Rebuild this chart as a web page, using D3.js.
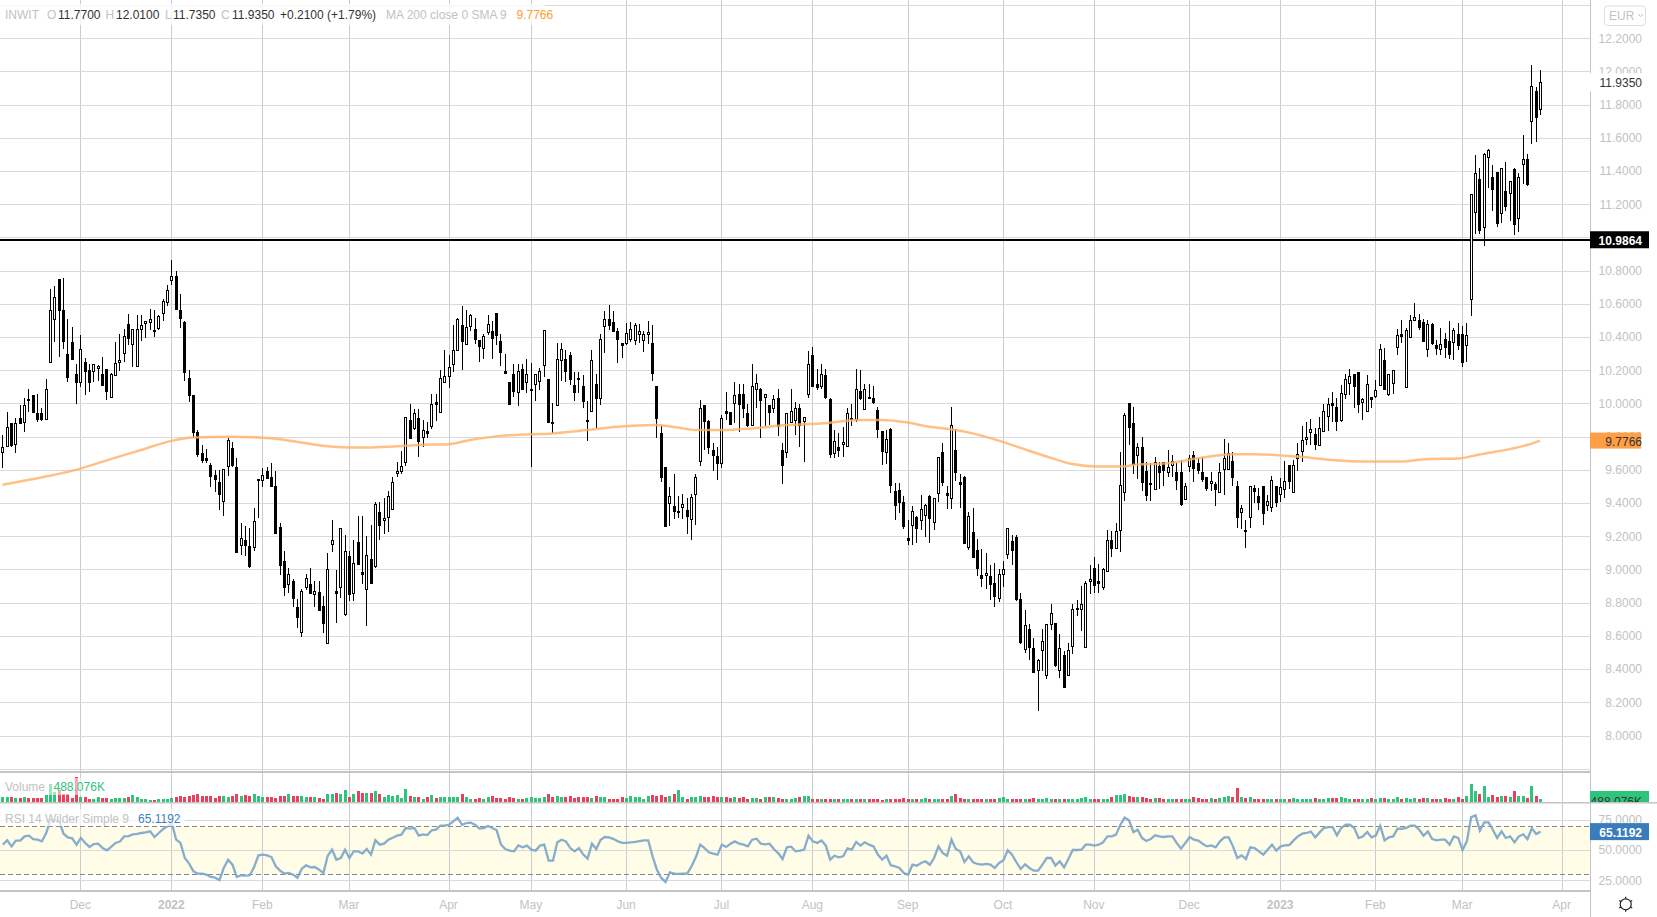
<!DOCTYPE html>
<html lang="en">
<head>
    <meta charset="UTF-8">
    <script src="https://cdn.jsdelivr.net/npm/d3@7"></script>
    <title>INWIT</title>
    <style>
        html, body { margin: 0; padding: 0; background: #fff; overflow: hidden; }
        text { font-family: "Liberation Sans", Arial, sans-serif; }
    </style>
</head>
<body>
<script>
    // OHLC per session
    var opens = [
        9.71,9.745,9.88,9.76,9.915,9.89,10.025,10.05,9.945,9.945,
        9.91,10.25,10.51,10.75,10.565,10.3,10.37,10.18,10.13,10.25,
        10.2,10.2,10.21,10.175,10.21,10.04,10.17,10.25,10.3,10.48,
        10.36,10.225,10.45,10.48,10.49,10.445,10.45,10.54,10.615,10.745,
        10.77,10.565,10.49,10.155,10.05,9.83,9.7,9.67,9.63,9.57,
        9.525,9.415,9.625,9.73,9.615,9.15,9.175,9.14,9.135,9.54,
        9.54,9.595,9.56,9.505,9.255,9.05,8.91,8.93,8.775,8.625,
        8.895,8.915,8.85,8.865,8.78,8.555,9.155,8.87,8.895,8.73,
        9.08,8.86,9.165,8.985,8.885,9.065,9.02,9.345,9.295,9.32,
        9.365,9.58,9.595,9.65,9.9,9.855,9.915,9.795,9.835,9.865,
        10.01,9.95,10.13,10.165,10.24,10.325,10.475,10.36,10.47,10.45,
        10.385,10.33,10.43,10.435,10.545,10.375,10.195,10.13,10.18,10.07,
        10.21,10.13,10.09,10.12,10.135,10.23,10.15,9.89,9.99,10.265,
        10.27,10.29,10.11,10.155,10.105,9.9,9.955,10.115,10.035,10.47,
        10.51,10.49,10.435,10.365,10.365,10.39,10.385,10.415,10.385,10.415,
        10.365,10.105,9.825,9.615,9.395,9.38,9.35,9.375,9.36,9.305,
        9.455,9.65,9.99,9.895,9.72,9.685,9.645,9.955,9.95,10.0,
        10.06,10.06,9.945,9.87,10.09,10.085,10.035,9.99,9.97,10.035,
        9.72,9.71,9.89,9.895,9.97,9.895,10.06,10.295,10.115,10.105,
        10.17,10.03,9.7,9.735,9.755,9.74,9.915,9.91,10.075,9.97,
        10.04,10.035,9.96,9.835,9.705,9.845,9.475,9.48,9.405,9.19,
        9.27,9.315,9.3,9.33,9.445,9.285,9.46,9.705,9.46,9.43,
        9.72,9.53,9.56,9.137,9.224,9.117,8.965,8.965,8.96,8.92,
        8.825,8.975,9.095,9.17,9.195,8.82,8.52,8.64,8.53,8.395,
        8.515,8.36,8.67,8.68,8.4,8.485,8.365,8.545,8.77,8.76,
        8.535,8.925,9.01,8.93,8.89,8.99,9.175,9.125,9.24,9.465,
        10.0,9.885,9.685,9.735,9.595,9.52,9.48,9.625,9.65,9.59,
        9.63,9.585,9.585,9.42,9.62,9.69,9.64,9.59,9.555,9.52,
        9.515,9.47,9.605,9.605,9.655,9.5,9.345,9.24,9.315,9.49,
        9.445,9.5,9.385,9.375,9.505,9.45,9.485,9.63,9.47,9.67,
        9.715,9.79,9.825,9.815,9.755,9.835,9.92,10.0,9.98,9.905,
        10.06,10.12,10.18,10.19,10.005,9.95,10.04,10.045,10.115,10.26,
        10.06,10.12,10.34,10.42,10.1,10.4,10.5,10.5,10.49,10.33,
        10.48,10.35,10.33,10.39,10.375,10.375,10.42,10.42,10.355,10.63,
        11.155,11.355,11.06,11.485,11.365,11.395,11.15,11.28,11.27,11.415,
        11.12,11.445,11.475,11.7,11.885,11.77
    ];
    var highs = [
        9.81,9.95,9.885,9.915,9.99,10.035,10.09,10.05,10.06,9.97,
        10.145,10.69,10.71,10.75,10.755,10.51,10.46,10.24,10.41,10.275,
        10.235,10.24,10.23,10.28,10.21,10.185,10.37,10.42,10.45,10.54,
        10.45,10.535,10.535,10.5,10.57,10.565,10.535,10.63,10.715,10.865,
        10.8,10.66,10.5,10.2,10.05,9.84,9.75,9.725,9.64,9.6,
        9.6,9.605,9.79,9.77,9.67,9.28,9.265,9.25,9.37,9.545,
        9.61,9.62,9.64,9.595,9.28,9.11,9.01,8.945,8.825,8.88,
        8.975,9.01,8.93,8.93,8.84,9.1,9.3,8.995,9.25,9.21,
        9.11,9.18,9.32,9.32,9.2,9.27,9.405,9.405,9.43,9.47,
        9.56,9.645,9.715,9.92,10.0,9.965,9.965,9.9,9.89,10.055,
        10.055,10.2,10.32,10.295,10.47,10.515,10.585,10.565,10.54,10.515,
        10.385,10.42,10.535,10.495,10.545,10.42,10.3,10.13,10.235,10.24,
        10.24,10.27,10.245,10.18,10.215,10.445,10.15,10.005,10.365,10.365,
        10.325,10.31,10.19,10.19,10.17,10.015,10.32,10.18,10.42,10.555,
        10.595,10.56,10.455,10.365,10.485,10.49,10.485,10.48,10.435,10.495,
        10.475,10.105,9.87,9.615,9.5,9.575,9.44,9.455,9.43,9.455,
        9.575,10.02,9.99,9.9,9.765,9.74,9.93,10.07,9.95,10.13,
        10.115,10.115,9.995,10.24,10.18,10.095,10.06,9.99,10.05,10.09,
        9.765,9.945,10.09,10.01,10.0,9.92,10.315,10.34,10.205,10.24,
        10.21,10.035,9.84,9.82,9.86,9.97,10.0,10.21,10.2,10.12,
        10.12,10.105,9.98,9.835,9.84,9.855,9.52,9.52,9.445,9.3,
        9.385,9.32,9.45,9.395,9.45,9.43,9.68,9.76,9.505,9.98,
        9.845,9.575,9.565,9.345,9.37,9.184,9.125,9.1,9.025,9.04,
        9.005,9.05,9.25,9.21,9.21,8.86,8.755,8.67,8.59,8.46,
        8.64,8.67,8.795,8.68,8.61,8.51,8.56,8.79,8.815,8.9,
        8.93,9.025,9.075,9.035,9.01,9.24,9.23,9.28,9.705,9.945,
        10.0,9.978,9.76,9.8,9.65,9.64,9.68,9.65,9.65,9.72,
        9.69,9.64,9.66,9.52,9.69,9.715,9.67,9.68,9.555,9.585,
        9.53,9.64,9.785,9.76,9.705,9.535,9.39,9.3,9.505,9.51,
        9.49,9.5,9.45,9.565,9.505,9.55,9.655,9.63,9.66,9.76,
        9.865,9.89,9.905,9.85,9.92,10.0,10.035,10.07,10.035,10.11,
        10.175,10.21,10.18,10.19,10.035,10.17,10.04,10.14,10.36,10.335,
        10.18,10.2,10.45,10.505,10.455,10.535,10.605,10.54,10.51,10.505,
        10.485,10.385,10.455,10.425,10.5,10.455,10.485,10.465,10.485,11.26,
        11.495,11.42,11.51,11.535,11.435,11.395,11.42,11.455,11.34,11.42,
        11.39,11.615,11.505,12.04,11.905,12.01
    ];
    var lows = [
        9.61,9.735,9.735,9.7,9.875,9.83,9.95,9.95,9.89,9.895,
        9.91,10.25,10.37,10.28,10.33,10.13,10.27,10.0,10.1,10.05,
        10.07,10.13,10.135,10.11,10.02,10.04,10.165,10.195,10.25,10.35,
        10.22,10.225,10.375,10.395,10.44,10.4,10.445,10.5,10.59,10.715,
        10.565,10.455,10.135,10.01,9.795,9.675,9.64,9.64,9.5,9.465,
        9.36,9.325,9.565,9.615,9.105,9.085,9.08,9.01,9.11,9.31,
        9.5,9.55,9.495,9.215,8.965,8.84,8.86,8.775,8.645,8.595,
        8.875,8.855,8.775,8.755,8.62,8.555,9.105,8.68,8.83,8.72,
        8.81,8.81,9.03,8.915,8.66,8.92,9.01,9.18,9.215,9.225,
        9.365,9.56,9.575,9.625,9.79,9.84,9.675,9.735,9.79,9.845,
        9.895,9.94,10.13,10.095,10.19,10.32,10.2,10.36,10.435,10.36,
        10.25,10.27,10.41,10.27,10.355,10.225,10.175,10.0,10.04,9.985,
        10.085,10.065,9.62,10.015,10.08,10.16,9.89,9.825,9.99,10.135,
        10.13,10.11,10.015,10.065,9.975,9.775,9.955,9.855,9.99,10.305,
        10.44,10.43,10.245,10.275,10.35,10.37,10.35,10.365,10.31,10.36,
        10.135,9.79,9.527,9.26,9.26,9.305,9.31,9.305,9.215,9.18,
        9.27,9.625,9.72,9.695,9.595,9.54,9.61,9.9,9.875,9.885,
        9.83,9.91,9.86,9.87,9.975,9.79,9.865,9.87,9.945,9.805,
        9.515,9.67,9.89,9.81,9.735,9.65,10.035,10.11,10.08,10.09,
        10.03,9.67,9.67,9.68,9.68,9.74,9.865,9.89,10.02,9.97,
        10.035,9.995,9.795,9.63,9.635,9.46,9.3,9.34,9.245,9.145,
        9.145,9.16,9.24,9.195,9.16,9.24,9.405,9.505,9.365,9.365,
        9.535,9.37,9.165,9.12,9.071,8.96,8.895,8.885,8.815,8.775,
        8.805,8.895,9.065,9.025,8.81,8.55,8.5,8.455,8.385,8.145,
        8.39,8.34,8.635,8.41,8.345,8.29,8.365,8.49,8.72,8.63,
        8.535,8.85,8.86,8.86,8.875,8.99,9.075,9.125,9.105,9.41,
        9.75,9.575,9.545,9.47,9.415,9.415,9.48,9.485,9.505,9.555,
        9.555,9.48,9.38,9.42,9.585,9.53,9.575,9.525,9.47,9.47,
        9.385,9.47,9.45,9.6,9.505,9.25,9.245,9.13,9.25,9.4,
        9.36,9.27,9.35,9.345,9.375,9.405,9.43,9.485,9.47,9.595,
        9.645,9.75,9.75,9.72,9.755,9.835,9.835,9.89,9.835,9.89,
        10.025,10.05,9.97,9.945,9.9,9.95,9.975,10.035,10.115,10.085,
        10.045,10.055,10.29,10.365,10.1,10.4,10.5,10.44,10.375,10.28,
        10.35,10.295,10.295,10.275,10.27,10.26,10.32,10.22,10.25,10.53,
        11.02,11.02,10.95,11.3,11.16,11.065,11.085,11.16,11.1,11.015,
        11.035,11.325,11.31,11.565,11.575,11.735
    ];
    var closes = [
        9.74,9.86,9.745,9.885,9.885,9.99,10.02,9.95,9.91,9.91,
        10.09,10.566,10.64,10.565,10.38,10.16,10.27,10.13,10.33,10.195,
        10.13,10.24,10.225,10.11,10.075,10.18,10.245,10.265,10.405,10.395,
        10.45,10.45,10.475,10.495,10.51,10.44,10.525,10.615,10.685,10.77,
        10.57,10.515,10.19,10.05,9.83,9.7,9.66,9.66,9.565,9.545,
        9.45,9.605,9.78,9.63,9.105,9.19,9.145,9.02,9.29,9.545,
        9.57,9.555,9.505,9.22,9.025,8.895,8.97,8.83,8.715,8.87,
        8.95,8.86,8.87,8.755,8.675,9.0,9.18,8.855,9.25,9.11,
        8.85,9.04,9.03,8.97,9.09,8.92,9.395,9.265,9.31,9.445,
        9.525,9.595,9.625,9.92,9.79,9.945,9.775,9.84,9.82,9.995,
        10.0,10.155,10.165,10.22,10.325,10.51,10.38,10.46,10.535,10.39,
        10.35,10.405,10.48,10.395,10.415,10.31,10.185,10.0,10.075,10.195,
        10.09,10.18,10.09,10.18,10.195,10.44,9.89,9.885,10.27,10.33,
        10.2,10.145,10.065,10.15,10.015,9.895,10.265,10.03,10.39,10.51,
        10.475,10.435,10.385,10.355,10.425,10.45,10.475,10.435,10.42,10.43,
        10.185,9.915,9.56,9.26,9.44,9.35,9.35,9.395,9.325,9.435,
        9.555,9.97,9.895,9.74,9.69,9.645,9.915,9.945,9.875,10.05,
        10.0,9.975,9.87,10.105,10.125,10.02,10.055,9.945,10.025,9.865,
        9.63,9.945,9.955,9.97,9.865,9.92,10.24,10.11,10.095,10.175,
        10.035,9.7,9.775,9.715,9.77,9.94,9.91,10.09,10.03,10.09,
        10.035,10.01,9.845,9.715,9.785,9.505,9.39,9.405,9.26,9.18,
        9.355,9.25,9.365,9.39,9.315,9.43,9.675,9.525,9.445,9.87,
        9.59,9.52,9.165,9.325,9.071,9.01,8.945,8.98,8.91,8.84,
        8.97,9.005,9.25,9.115,8.82,8.56,8.665,8.53,8.385,8.455,
        8.57,8.67,8.735,8.425,8.53,8.29,8.515,8.765,8.77,8.79,
        8.92,8.94,8.905,8.92,9.0,9.175,9.125,9.23,9.51,9.93,
        9.855,9.64,9.735,9.525,9.45,9.515,9.645,9.59,9.6,9.62,
        9.655,9.535,9.39,9.5,9.67,9.61,9.6,9.55,9.49,9.535,
        9.485,9.59,9.672,9.7,9.56,9.315,9.37,9.235,9.5,9.47,
        9.41,9.34,9.41,9.54,9.41,9.495,9.535,9.535,9.63,9.695,
        9.78,9.8,9.845,9.755,9.855,9.955,9.995,9.99,9.895,10.065,
        10.15,10.165,10.105,10.0,10.025,10.115,10.03,10.08,10.33,10.085,
        10.18,10.2,10.415,10.41,10.445,10.505,10.52,10.46,10.375,10.48,
        10.365,10.33,10.36,10.34,10.295,10.445,10.355,10.25,10.415,11.26,
        11.39,11.045,11.5,11.53,11.295,11.09,11.42,11.19,11.34,11.085,
        11.365,11.475,11.325,11.91,11.73,11.935
    ];

    // volume in thousands
    var volumes = [
        660,660,660,580,580,660,580,580,580,580,
        1020,2630,1460,1750,1170,1170,580,3650,730,730,
        440,510,660,580,580,440,580,580,580,730,
        1020,730,440,440,290,290,440,440,440,580,
        660,880,730,880,1020,1170,880,880,880,580,
        880,880,730,880,1170,880,1020,880,1170,880,
        730,730,730,580,880,880,1170,880,880,880,
        730,730,730,580,440,1170,1170,1310,1170,1750,
        730,1170,1610,1310,1310,1310,1610,1170,730,1020,
        880,1020,580,1900,880,730,730,440,730,1020,
        580,730,730,730,730,730,1170,730,440,370,
        580,440,730,880,580,580,440,660,580,440,
        510,580,660,580,580,730,1170,730,880,730,
        730,880,580,660,730,660,580,880,730,660,
        510,440,510,660,580,880,730,660,510,880,
        1020,880,1020,730,880,1170,1750,730,510,660,
        730,880,730,660,880,730,730,660,580,660,
        580,660,510,580,580,510,660,730,660,580,
        510,440,510,580,730,880,880,440,440,370,
        510,440,370,440,440,440,440,510,440,440,
        370,440,370,290,370,440,370,510,580,440,
        440,440,440,580,510,440,510,440,440,880,
        1170,580,440,510,440,510,510,440,510,510,
        580,660,510,440,370,510,440,440,580,510,
        440,580,510,510,370,510,510,440,510,580,
        660,370,440,440,440,510,660,1020,1020,1170,
        880,730,730,660,580,510,580,580,510,440,
        510,370,510,510,440,660,580,510,510,580,
        510,580,730,880,660,2040,730,580,730,440,
        370,370,370,370,440,370,440,440,580,440,
        440,440,440,580,440,440,580,580,580,730,
        580,440,370,440,440,440,580,440,580,580,
        440,440,730,440,580,370,580,440,580,580,
        440,440,440,580,440,440,730,440,880,2630,
        1610,1170,2340,730,1020,730,880,880,730,1610,
        880,880,580,2340,880,488.076
    ];

    var rsiValues = [
        54.4,58,53,57.7,57.7,61.2,61.8,59,58.5,57.1,
        64,75,74.4,73.6,63.4,60.4,59.6,54.4,59.9,55.8,
        52.5,54.9,55.2,51.6,49.7,52.5,55.8,56.9,61.2,61.5,
        62.9,63.2,64,64.5,65.4,60.7,64,67.3,69.5,72.2,
        58.5,55.8,43.4,38.8,32.4,30.5,30.5,29.7,27.8,27.2,
        25.3,35.2,42,37.9,27.8,29.2,28.9,29.2,36,45.6,
        46.2,45.6,44.2,36.6,33,30.5,31.1,29.7,27.2,34.6,
        37.4,35.7,36,33.8,31.1,45.3,50.3,42,43.4,50.3,
        43.4,48.9,48.9,47,50.8,46.2,58,54.4,55.2,58.5,
        60.1,61.8,62.6,68.1,67.6,68.1,61.8,62.9,62.3,66.2,
        66.7,70,70,70.8,73.6,76.6,70.8,72.2,72.5,70.8,
        67.6,68.1,69.7,68.1,66.2,54.4,50.8,49.5,48.9,53.8,
        52.2,53.6,50.3,49.5,53.6,54.4,41.2,41.2,56.3,58.5,
        57.1,51.6,48.9,51.6,46.2,42.9,55.2,50.8,58.5,60.7,
        60.4,59,57.1,55.8,55.8,56.3,56.6,57.4,57.9,57.9,
        44.8,33.8,27,23.7,31.6,30.5,30.3,30.5,30.5,36.6,
        44.2,54.4,51.6,48.1,47,46.2,54.4,52.5,55.2,57.1,
        55.2,54.4,53,58.5,59.3,55.2,54.7,55.2,50.8,47.5,
        42.6,52.2,52.7,48.9,
        49.5,50.3,61.8,57.1,55.8,57.9,53.6,42.1,45.3,44,
        44.8,51.4,50.3,56.6,53.6,56.3,54.4,53,46.2,42.1,
        45.3,37.4,36.6,35.2,31.1,29.7,37.9,37.1,39.3,40.7,
        37.9,43.4,53,47.5,45.3,58.5,50.8,48.9,40.1,44.8,
        39.9,38.5,37.9,38.5,37.9,35.2,39.3,41.5,49.7,46.2,
        39.9,34.4,38.2,35.2,33,33,37.9,43.4,43.4,37.1,
        40.7,35.8,42.6,50,50,50.3,54.4,54.4,53.6,54.4,
        56.3,61.2,61.2,62.6,70.8,76.6,74.4,64.8,66.7,59.9,
        57.4,59,62.1,61.2,60.7,61.2,61.2,55.8,51.1,55.8,
        60.7,58.5,57.7,55.2,53,53.8,52.2,57.1,60.4,60.4,
        53,43.4,45.6,42.6,52.2,51.6,48.9,46.2,50.3,54.4,
        49.5,53,53.8,54.1,57.9,61.2,63.4,64,65.1,60.4,
        64.5,68.1,68.9,68.9,62.1,68.1,70.8,70.8,68.1,59.9,
        61.2,64.8,60.4,62.1,70,57.9,60.4,61.2,67.5,67.5,
        68.1,70,70,66.7,61.8,65.3,59,57.9,58.5,58.5,
        54.4,61.2,59.9,50,57.1,77.1,78.5,65.9,72.7,72.7,
        66.7,59.9,65.3,59.9,61.2,56.3,61.2,62.9,59,67.8,
        63.2,65.1192
    ];

    // 200 day average, read at these sessions
    var maSessions = [0,10,17,25,32,39,44,53,62,69,74,80,85,93,96,103,108,115,122,127,135,142,151,156,160,166,173,181,189,198,203,209,214,219,224,232,237,243,247,253,259,261,269,276,284,289,299,307,315,323,329,336,341,348,352,355];
    var maValues = [9.51,9.56,9.6,9.665,9.72,9.775,9.795,9.8,9.79,9.765,9.745,9.735,9.735,9.745,9.75,9.755,9.78,9.805,9.815,9.82,9.84,9.86,9.87,9.855,9.84,9.84,9.85,9.87,9.88,9.9,9.9,9.885,9.86,9.845,9.82,9.76,9.715,9.665,9.635,9.62,9.62,9.63,9.64,9.67,9.695,9.695,9.68,9.66,9.65,9.65,9.665,9.668,9.693,9.725,9.75,9.7766];

    var monthSessions = [18,39,60,80,103,122,144,166,187,209,231,252,274,295,317,337,360];
    var monthLabels = ["Dec","2022","Feb","Mar","Apr","May","Jun","Jul","Aug","Sep","Oct","Nov","Dec","2023","Feb","Mar","Apr"];
    var priceTicks = [8,8.2,8.4,8.6,8.8,9,9.2,9.4,9.6,9.8,10,10.2,10.4,10.6,10.8,11,11.2,11.4,11.6,11.8,12,12.2];
    var priceGrid = [7.8].concat(priceTicks, [12.4]);
    var rsiTicks = [25,50,75];
    var rsiBands = [30,70];
    var hLine = 10.9864;

    var width = 1657, height = 917;
    var axisX = 1590;
    var upColor = "#2ec47c", downColor = "#e8405f", gray = "#c2c2c2";

    var svg = d3.select("body").append("svg")
        .attr("width", width)
        .attr("height", height)
        .style("display", "block");

    var x = d3.scaleLinear().domain([0, 355]).range([2.4, 1540]);
    var yPrice = d3.scaleLinear().domain([8, 12.2]).range([735.5, 38.3]);
    var yVol = d3.scaleLinear().domain([0, 3650]).range([802, 777]);
    var yRsi = d3.scaleLinear().domain([30, 70]).range([874.3, 825.7]);

    function px(i) { return Math.round(x(i)); }

    // rsi background goes under the grid
    svg.append("rect")
        .attr("x", 0)
        .attr("y", yRsi(70))
        .attr("width", axisX)
        .attr("height", yRsi(30) - yRsi(70))
        .attr("fill", "#fffce8");

    // grids
    svg.append("g").selectAll("line")
        .data(monthSessions)
        .enter()
        .append("line")
        .attr("x1", d => px(d) + 0.5)
        .attr("x2", d => px(d) + 0.5)
        .attr("y1", 0)
        .attr("y2", 891)
        .attr("stroke", "#cbcbd3");

    svg.append("g").selectAll("line")
        .data(priceGrid)
        .enter()
        .append("line")
        .attr("x1", 0)
        .attr("x2", axisX)
        .attr("y1", d => Math.round(yPrice(d)) + 0.5)
        .attr("y2", d => Math.round(yPrice(d)) + 0.5)
        .attr("stroke", "#d9d9d9");

    svg.append("g").selectAll("line")
        .data(rsiTicks)
        .enter()
        .append("line")
        .attr("x1", 0)
        .attr("x2", axisX)
        .attr("y1", d => Math.round(yRsi(d)) + 0.5)
        .attr("y2", d => Math.round(yRsi(d)) + 0.5)
        .attr("stroke", "#d9d9d9");

    svg.append("g").selectAll("line")
        .data(rsiBands)
        .enter()
        .append("line")
        .attr("x1", 0)
        .attr("x2", axisX)
        .attr("y1", d => Math.round(yRsi(d)) + 0.5)
        .attr("y2", d => Math.round(yRsi(d)) + 0.5)
        .attr("stroke", "#888")
        .attr("stroke-dasharray", "5,3");

    // pane separators
    svg.append("rect").attr("x", 0).attr("y", 771).attr("width", axisX).attr("height", 2).attr("fill", "#c4c4c4");
    svg.append("rect").attr("x", 0).attr("y", 802).attr("width", width).attr("height", 1.5).attr("fill", "#c4c4c4");
    svg.append("rect").attr("x", 0).attr("y", 890).attr("width", axisX).attr("height", 2).attr("fill", "#c4c4c4");
    svg.append("rect").attr("x", axisX).attr("y", 0).attr("width", 1).attr("height", height).attr("fill", "#c4c4c4");

    // level line
    svg.append("line")
        .attr("x1", 0)
        .attr("x2", axisX)
        .attr("y1", Math.round(yPrice(hLine)))
        .attr("y2", Math.round(yPrice(hLine)))
        .attr("stroke", "#000")
        .attr("stroke-width", 2);

    // candles
    var candles = svg.append("g").attr("shape-rendering", "crispEdges");
    candles.selectAll("line")
        .data(closes)
        .enter()
        .append("line")
        .attr("x1", (d, i) => px(i) + 0.5)
        .attr("x2", (d, i) => px(i) + 0.5)
        .attr("y1", (d, i) => yPrice(highs[i]))
        .attr("y2", (d, i) => yPrice(lows[i]))
        .attr("stroke", "#000");

    candles.selectAll("rect")
        .data(closes)
        .enter()
        .append("rect")
        .attr("x", (d, i) => px(i) - 0.5)
        .attr("width", 2)
        .attr("y", (d, i) => Math.round(yPrice(Math.max(opens[i], d))) + 0.5)
        .attr("height", (d, i) => Math.max(1, Math.round(yPrice(Math.min(opens[i], d)) - yPrice(Math.max(opens[i], d)))))
        .attr("fill", (d, i) => d >= opens[i] ? "#fff" : "#000")
        .attr("stroke", "#000");

    // moving average
    var maLine = d3.line()
        .x((d, i) => x(maSessions[i]))
        .y(d => yPrice(d))
        .curve(d3.curveMonotoneX);

    svg.append("path")
        .attr("d", maLine(maValues))
        .attr("fill", "none")
        .attr("stroke", "#ffb066")
        .attr("stroke-opacity", 0.8)
        .attr("stroke-width", 2.5);

    // volume
    svg.append("g").attr("shape-rendering", "crispEdges").selectAll("rect")
        .data(volumes)
        .enter()
        .append("rect")
        .attr("x", (d, i) => px(i) - 1)
        .attr("y", d => yVol(d))
        .attr("width", 3)
        .attr("height", d => yVol(0) - yVol(d))
        .attr("fill", (d, i) => closes[i] >= opens[i] ? upColor : downColor);

    // rsi
    var rsiLine = d3.line()
        .x((d, i) => x(i) + 0.5)
        .y(d => yRsi(d));

    svg.append("path")
        .attr("d", rsiLine(rsiValues))
        .attr("fill", "none")
        .attr("stroke", "#7fa9ca")
        .attr("stroke-opacity", 0.95)
        .attr("stroke-width", 2.3);

    // legend washes
    svg.append("rect").attr("x", 0).attr("y", 4).attr("width", 545).attr("height", 21).attr("fill", "#fff").attr("opacity", 0.75);
    svg.append("rect").attr("x", 0).attr("y", 778).attr("width", 107).attr("height", 17).attr("fill", "#fff").attr("opacity", 0.55);
    svg.append("rect").attr("x", 0).attr("y", 809).attr("width", 185).attr("height", 17).attr("fill", "#fff").attr("opacity", 0.7);

    function label(xPos, yPos, str, color, size, weight) {
        svg.append("text")
            .attr("x", xPos)
            .attr("y", yPos)
            .attr("fill", color)
            .attr("font-size", size || 12)
            .attr("font-weight", weight || "normal")
            .text(str);
    }

    // header legend
    label(5, 19, "INWIT", gray);
    label(47, 19, "O", gray);
    label(58, 19, "11.7700", "#333");
    label(105.5, 19, "H", gray);
    label(116, 19, "12.0100", "#333");
    label(165, 19, "L", gray);
    label(173, 19, "11.7350", "#333");
    label(221, 19, "C", gray);
    label(232, 19, "11.9350", "#333");
    label(280, 19, "+0.2100 (+1.79%)", "#333");
    label(386, 19, "MA 200 close 0 SMA 9", gray);
    label(516.5, 19, "9.7766", "#ff9933");

    label(5, 791, "Volume", gray);
    label(53.5, 791, "488.076K", upColor);
    label(5, 822.5, "RSI 14 Wilder Simple 9", gray);
    label(138, 822.5, "65.1192", "#3a7fc1");

    // price and rsi axes
    function sideAxis(scale, ticks) {
        var g = svg.append("g")
            .attr("transform", "translate(" + axisX + ",0)")
            .call(d3.axisRight(scale).tickValues(ticks).tickSize(0).tickFormat(d3.format(".4f")));
        g.select(".domain").remove();
        g.selectAll("text")
            .attr("x", 52)
            .attr("text-anchor", "end")
            .attr("font-family", "Liberation Sans")
            .attr("font-size", 12)
            .attr("fill", gray);
    }
    sideAxis(yPrice, priceTicks);
    sideAxis(yRsi, rsiTicks);

    // time axis
    var timeAxis = svg.append("g")
        .attr("transform", "translate(-0.5,892)")
        .call(d3.axisBottom(d3.scaleLinear().domain(x.domain()).range(x.range()))
            .tickValues(monthSessions)
            .tickSize(0)
            .tickFormat((d, i) => monthLabels[i]));
    timeAxis.select(".domain").remove();
    timeAxis.selectAll("text")
        .attr("y", 8)
        .attr("font-family", "Liberation Sans")
        .attr("font-size", 12)
        .attr("font-weight", (d, i) => monthLabels[i].length === 4 ? "bold" : "normal")
        .attr("fill", gray);

    // price tags on the axis
    function tag(yCenter, w, h, bg, str, color, weight) {
        svg.append("rect")
            .attr("x", axisX)
            .attr("y", yCenter - h / 2)
            .attr("width", w)
            .attr("height", h)
            .attr("fill", bg);
        svg.append("text")
            .attr("x", axisX + 52)
            .attr("y", yCenter + 1)
            .attr("dy", "0.34em")
            .attr("text-anchor", "end")
            .attr("font-size", 12)
            .attr("font-weight", weight || "normal")
            .attr("fill", color)
            .text(str);
    }
    tag(yPrice(closes[355]), 60, 18, "#fff", d3.format(".4f")(closes[355]), "#333");
    tag(yPrice(hLine), 59, 17, "#000", d3.format(".4f")(hLine), "#fff", "bold");
    tag(yPrice(maValues[maValues.length - 1]), 51, 16, "#ff9f45", d3.format(".4f")(maValues[maValues.length - 1]), "#333");
    tag(yRsi(rsiValues[355]), 59, 17, "#3a7dbd", d3.format(".4f")(rsiValues[355]), "#fff", "bold");

    // volume tag is cut off by the pane below
    svg.append("clipPath").attr("id", "volClip")
        .append("rect").attr("x", axisX).attr("y", 791).attr("width", 60).attr("height", 11);
    var volTag = svg.append("g").attr("clip-path", "url(#volClip)");
    volTag.append("rect").attr("x", axisX).attr("y", 791).attr("width", 59).attr("height", 11).attr("fill", upColor);
    volTag.append("text")
        .attr("x", axisX + 52)
        .attr("y", 801.5)
        .attr("dy", "0.34em")
        .attr("text-anchor", "end")
        .attr("font-size", 12)
        .attr("fill", "#333")
        .text("488.076K");

    // currency button
    svg.append("rect")
        .attr("x", 1604.5).attr("y", 6)
        .attr("width", 41).attr("height", 19.5)
        .attr("rx", 3)
        .attr("fill", "#fff")
        .attr("stroke", "#dcdce4");
    label(1609, 20, "EUR", gray);
    svg.append("path")
        .attr("d", "M1638,14 l2.5,2.5 l2.5,-2.5")
        .attr("fill", "none")
        .attr("stroke", "#bbb");

    // settings icon
    var gear = svg.append("g").attr("transform", "translate(1625.7,904.3)");
    gear.append("circle").attr("r", 5.5).attr("fill", "none").attr("stroke", "#222").attr("stroke-width", 1.2);
    gear.selectAll("line")
        .data(d3.range(0, 360, 60))
        .enter()
        .append("line")
        .attr("x1", 5.5)
        .attr("x2", 7.5)
        .attr("transform", d => "rotate(" + (d + 30) + ")")
        .attr("stroke", "#222")
        .attr("stroke-width", 1.2);
</script>
</body>
</html>
